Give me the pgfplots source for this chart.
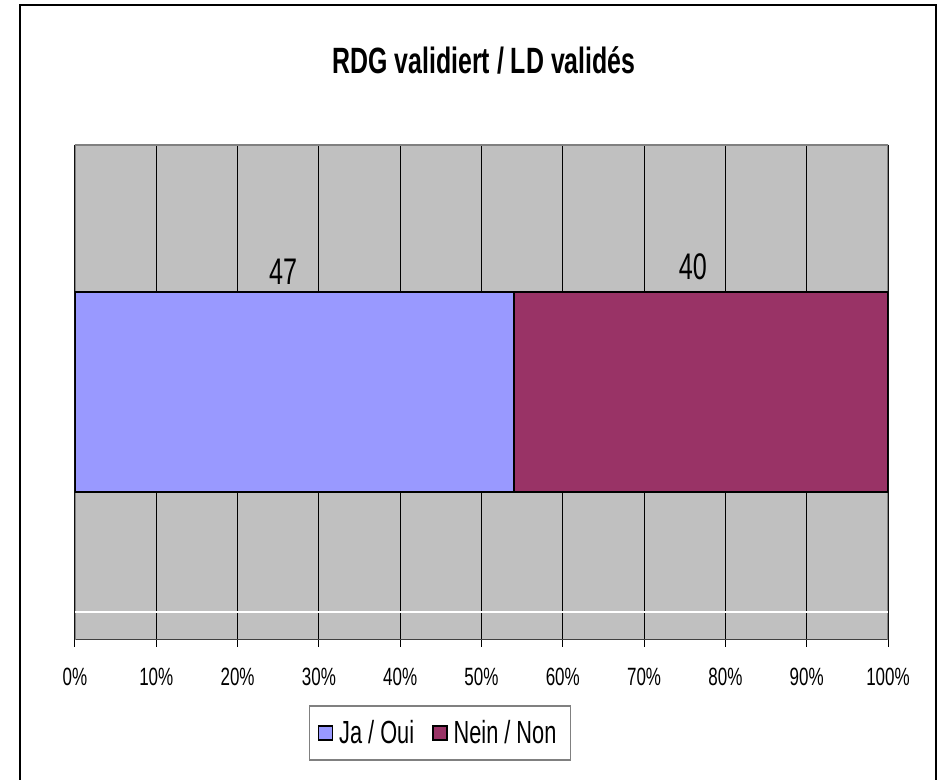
\documentclass[border=0pt]{standalone}
\usepackage{fontspec}
\setmainfont{Liberation Sans}[FakeStretch=0.68]
\usepackage{pgfplots}
\pgfplotsset{compat=1.18}
\definecolor{ja}{HTML}{9999FF}
\definecolor{nein}{HTML}{993366}
\definecolor{plotgray}{HTML}{C0C0C0}
\definecolor{framegray}{HTML}{808080}
\definecolor{axisdark}{HTML}{404040}
\begin{document}
\begin{tikzpicture}
\begin{axis}[
  at={(37.5pt,70pt)}, anchor=south west,
  scale only axis, width=406.5pt, height=247.5pt,
  xbar stacked, bar width=100pt,
  xmin=0, xmax=100, ymin=-1, ymax=1,
  enlargelimits=false,
  xtick={0,10,20,30,40,50,60,70,80,90,100},
  xticklabels={0\%,10\%,20\%,30\%,40\%,50\%,60\%,70\%,80\%,90\%,100\%},
  ytick=\empty,
  xtick pos=lower,
  tick align=outside,
  major tick length=3.5pt,
  tick style={black, line width=0.5pt},
  xticklabel style={font=\fontsize{12.5}{14}\selectfont, yshift=-7pt},
  xmajorgrids,
  major grid style={black, line width=0.5pt},
  axis background/.style={fill=plotgray},
  axis line style={draw=none},
  legend style={
    at={(0.449,-0.188)}, anchor=center,
    legend columns=2,
    draw=framegray, line width=0.75pt,
    font=\fontsize{16}{18}\selectfont,
    inner xsep=4pt, inner ysep=5pt,
    nodes={inner xsep=3pt},
    /tikz/every even column/.append style={column sep=6pt},
  },
  legend image code/.code={%
    \draw[#1, draw=black, line width=0.75pt] (0pt,-3.5pt) rectangle (7pt,3.5pt);},
]
\draw[white, line width=0.8pt] (axis cs:0,-0.887) -- (axis cs:100,-0.887);
\addplot[fill=ja, draw=black, line width=1pt] coordinates {(54.02,0)};
\addlegendentry{Ja / Oui}
\addplot[fill=nein, draw=black, line width=1pt] coordinates {(45.98,0)};
\addlegendentry{Nein / Non}
\node[font=\fontsize{18.5}{20}\selectfont] at (axis cs:25.6,0.487) {47};
\node[font=\fontsize{18.5}{20}\selectfont] at (axis cs:76.0,0.507) {40};
\draw[framegray, line width=1pt] (rel axis cs:0,0) -- (rel axis cs:0,1) -- (rel axis cs:1,1) -- (rel axis cs:1,0);
\draw[axisdark, line width=1pt] (rel axis cs:0,0) -- (rel axis cs:1,0);
\end{axis}
\node[font=\bfseries\fontsize{18.3}{20}\selectfont] at (242pt,360pt) {RDG validiert / LD validés};
\draw[black, line width=1pt] (10pt,-5pt) -- (10pt,387.5pt) -- (468pt,387.5pt) -- (468pt,-5pt);
\pgfresetboundingbox
\path[use as bounding box] (0,0) rectangle (469pt,390pt);
\end{tikzpicture}
\end{document}
